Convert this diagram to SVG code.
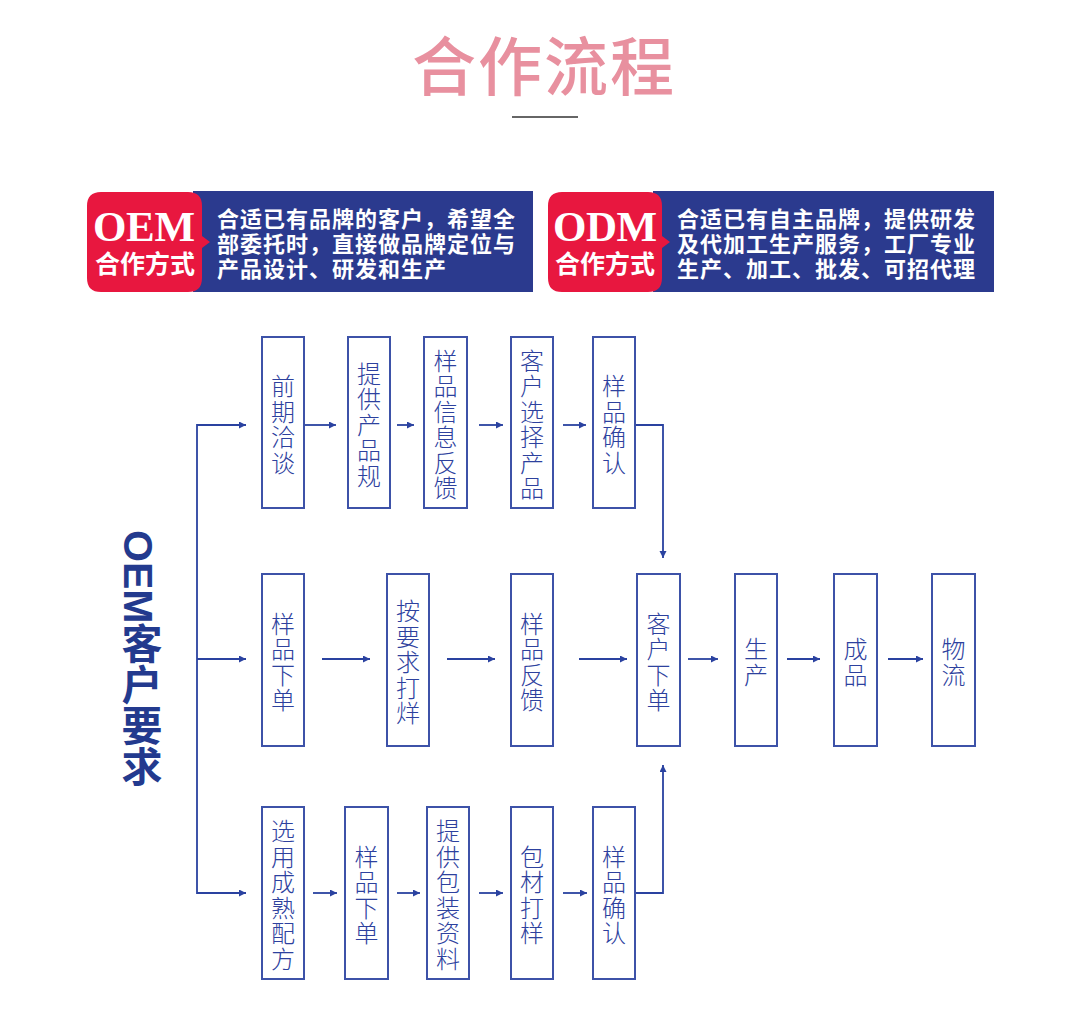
<svg xmlns="http://www.w3.org/2000/svg" width="1080" height="1028" viewBox="0 0 1080 1028">
<style>
.box{fill:#fff;stroke:#3d52a8;stroke-width:2}
.bt{font-family:"Noto Sans CJK SC","Noto Sans",sans-serif;font-size:24px;font-weight:300;fill:#2d419e;text-anchor:middle;dominant-baseline:central}
.con{stroke:#2a42a0;stroke-width:1.8;fill:none}
.ban{font-family:"Noto Sans CJK SC",sans-serif;font-size:22px;font-weight:bold;fill:#fff;letter-spacing:1px;dominant-baseline:central}
</style>
<defs>
<marker id="ah" markerUnits="userSpaceOnUse" markerWidth="8" markerHeight="8" refX="7" refY="3.5" orient="auto">
<path d="M0,0 L7,3.5 L0,7 z" fill="#2a42a0"/>
</marker>
</defs>
<rect width="1080" height="1028" fill="#fff"/>
<g id="title">
<text x="544" y="62" font-family="Noto Sans CJK SC,sans-serif" font-size="64" font-weight="500" fill="#e8909f" text-anchor="middle" dominant-baseline="central" letter-spacing="2">合作流程</text>
<line x1="512" y1="117" x2="578" y2="117" stroke="#333" stroke-width="1.5"/>
</g>
<g id="oem-banner">
<rect x="193" y="191" width="340" height="101" fill="#2b3a8e"/>
<path d="M101,192 H188 Q202,192 202,206 V236 L210,242 L202,248 V278 Q202,292 188,292 H101 Q87,292 87,278 V206 Q87,192 101,192 z" fill="#e8173f"/>
<text x="144" y="241" font-family="Liberation Serif,serif" font-size="43" font-weight="bold" fill="#fff" text-anchor="middle" textLength="102">OEM</text>
<text x="145" y="262" font-family="Noto Sans CJK SC,sans-serif" font-size="25" font-weight="bold" fill="#fff" text-anchor="middle" dominant-baseline="central">合作方式</text>
<text class="ban" x="217" y="217">合适已有品牌的客户，希望全</text>
<text class="ban" x="217" y="242">部委托时，直接做品牌定位与</text>
<text class="ban" x="217" y="267">产品设计、研发和生产</text>
</g>
<g id="odm-banner">
<rect x="653" y="191" width="341" height="101" fill="#2b3a8e"/>
<path d="M562,192 H648 Q662,192 662,206 V236 L670,242 L662,248 V278 Q662,292 648,292 H562 Q548,292 548,278 V206 Q548,192 562,192 z" fill="#e8173f"/>
<text x="605" y="241" font-family="Liberation Serif,serif" font-size="43" font-weight="bold" fill="#fff" text-anchor="middle" textLength="104">ODM</text>
<text x="605" y="262" font-family="Noto Sans CJK SC,sans-serif" font-size="25" font-weight="bold" fill="#fff" text-anchor="middle" dominant-baseline="central">合作方式</text>
<text class="ban" x="677" y="217">合适已有自主品牌，提供研发</text>
<text class="ban" x="677" y="242">及代加工生产服务，工厂专业</text>
<text class="ban" x="677" y="267">生产、加工、批发、可招代理</text>
</g>
<g id="side-title">
<text x="138" y="530" font-family="Liberation Sans,Noto Sans CJK SC,sans-serif" font-size="41" font-weight="bold" fill="#233a8e" style="writing-mode:vertical-rl">OEM客户要求</text>
</g>
<g id="connectors">
<line class="con" x1="197" y1="424" x2="197" y2="894"/>
<line class="con" x1="197" y1="425" x2="246" y2="425" marker-end="url(#ah)"/>
<line class="con" x1="197" y1="659" x2="246" y2="659" marker-end="url(#ah)"/>
<line class="con" x1="197" y1="893" x2="246" y2="893" marker-end="url(#ah)"/>
<line class="con" x1="304" y1="425" x2="336" y2="425" marker-end="url(#ah)"/>
<line class="con" x1="397" y1="425" x2="414" y2="425" marker-end="url(#ah)"/>
<line class="con" x1="479" y1="425" x2="503" y2="425" marker-end="url(#ah)"/>
<line class="con" x1="563" y1="425" x2="586" y2="425" marker-end="url(#ah)"/>
<path class="con" d="M635,425 H663 V558" marker-end="url(#ah)"/>
<line class="con" x1="322" y1="659" x2="370" y2="659" marker-end="url(#ah)"/>
<line class="con" x1="447" y1="659" x2="495" y2="659" marker-end="url(#ah)"/>
<line class="con" x1="579" y1="659" x2="627" y2="659" marker-end="url(#ah)"/>
<line class="con" x1="688" y1="659" x2="718" y2="659" marker-end="url(#ah)"/>
<line class="con" x1="787" y1="659" x2="820" y2="659" marker-end="url(#ah)"/>
<line class="con" x1="888" y1="659" x2="923" y2="659" marker-end="url(#ah)"/>
<line class="con" x1="313" y1="893" x2="337" y2="893" marker-end="url(#ah)"/>
<line class="con" x1="397" y1="893" x2="420" y2="893" marker-end="url(#ah)"/>
<line class="con" x1="479" y1="893" x2="503" y2="893" marker-end="url(#ah)"/>
<line class="con" x1="563" y1="893" x2="587" y2="893" marker-end="url(#ah)"/>
<path class="con" d="M635,893 H663 V765" marker-end="url(#ah)"/>
</g>
<g id="n-qianqi"><rect class="box" x="262" y="337" width="42" height="171"/>
<text class="bt"><tspan x="283" y="384.25">前</tspan><tspan x="283" y="409.75">期</tspan><tspan x="283" y="435.25">洽</tspan><tspan x="283" y="460.75">谈</tspan></text></g>
<g id="n-tigong"><rect class="box" x="348" y="337" width="42" height="171"/>
<text class="bt"><tspan x="369" y="371.5">提</tspan><tspan x="369" y="397">供</tspan><tspan x="369" y="422.5">产</tspan><tspan x="369" y="448">品</tspan><tspan x="369" y="473.5">规</tspan></text></g>
<g id="n-xinxi"><rect class="box" x="424" y="337" width="43" height="171"/>
<text class="bt"><tspan x="445.5" y="358.75">样</tspan><tspan x="445.5" y="384.25">品</tspan><tspan x="445.5" y="409.75">信</tspan><tspan x="445.5" y="435.25">息</tspan><tspan x="445.5" y="460.75">反</tspan><tspan x="445.5" y="486.25">馈</tspan></text></g>
<g id="n-xuanze"><rect class="box" x="511" y="337" width="42" height="171"/>
<text class="bt"><tspan x="532" y="358.75">客</tspan><tspan x="532" y="384.25">户</tspan><tspan x="532" y="409.75">选</tspan><tspan x="532" y="435.25">择</tspan><tspan x="532" y="460.75">产</tspan><tspan x="532" y="486.25">品</tspan></text></g>
<g id="n-queren1"><rect class="box" x="593" y="337" width="42" height="171"/>
<text class="bt"><tspan x="614" y="384.25">样</tspan><tspan x="614" y="409.75">品</tspan><tspan x="614" y="435.25">确</tspan><tspan x="614" y="460.75">认</tspan></text></g>
<g id="n-xiadan1"><rect class="box" x="262" y="574" width="42" height="172"/>
<text class="bt"><tspan x="283" y="621.75">样</tspan><tspan x="283" y="647.25">品</tspan><tspan x="283" y="672.75">下</tspan><tspan x="283" y="698.25">单</tspan></text></g>
<g id="n-dayang"><rect class="box" x="387" y="574" width="42" height="172"/>
<text class="bt"><tspan x="408" y="609">按</tspan><tspan x="408" y="634.5">要</tspan><tspan x="408" y="660">求</tspan><tspan x="408" y="685.5">打</tspan><tspan x="408" y="711">烊</tspan></text></g>
<g id="n-fankui"><rect class="box" x="511" y="574" width="42" height="172"/>
<text class="bt"><tspan x="532" y="621.75">样</tspan><tspan x="532" y="647.25">品</tspan><tspan x="532" y="672.75">反</tspan><tspan x="532" y="698.25">馈</tspan></text></g>
<g id="n-kehuxiadan"><rect class="box" x="637" y="574" width="43" height="172"/>
<text class="bt"><tspan x="658.5" y="621.75">客</tspan><tspan x="658.5" y="647.25">户</tspan><tspan x="658.5" y="672.75">下</tspan><tspan x="658.5" y="698.25">单</tspan></text></g>
<g id="n-shengchan"><rect class="box" x="735" y="574" width="42" height="172"/>
<text class="bt"><tspan x="756" y="647.25">生</tspan><tspan x="756" y="672.75">产</tspan></text></g>
<g id="n-chengpin"><rect class="box" x="834" y="574" width="43" height="172"/>
<text class="bt"><tspan x="855.5" y="647.25">成</tspan><tspan x="855.5" y="672.75">品</tspan></text></g>
<g id="n-wuliu"><rect class="box" x="932" y="574" width="43" height="172"/>
<text class="bt"><tspan x="953.5" y="647.25">物</tspan><tspan x="953.5" y="672.75">流</tspan></text></g>
<g id="n-peifang"><rect class="box" x="262" y="807" width="42" height="172"/>
<text class="bt"><tspan x="283" y="829.25">选</tspan><tspan x="283" y="854.75">用</tspan><tspan x="283" y="880.25">成</tspan><tspan x="283" y="905.75">熟</tspan><tspan x="283" y="931.25">配</tspan><tspan x="283" y="956.75">方</tspan></text></g>
<g id="n-xiadan2"><rect class="box" x="345" y="807" width="43" height="172"/>
<text class="bt"><tspan x="366.5" y="854.75">样</tspan><tspan x="366.5" y="880.25">品</tspan><tspan x="366.5" y="905.75">下</tspan><tspan x="366.5" y="931.25">单</tspan></text></g>
<g id="n-baozhuang"><rect class="box" x="427" y="807" width="42" height="172"/>
<text class="bt"><tspan x="448" y="829.25">提</tspan><tspan x="448" y="854.75">供</tspan><tspan x="448" y="880.25">包</tspan><tspan x="448" y="905.75">装</tspan><tspan x="448" y="931.25">资</tspan><tspan x="448" y="956.75">料</tspan></text></g>
<g id="n-baocai"><rect class="box" x="511" y="807" width="42" height="172"/>
<text class="bt"><tspan x="532" y="854.75">包</tspan><tspan x="532" y="880.25">材</tspan><tspan x="532" y="905.75">打</tspan><tspan x="532" y="931.25">样</tspan></text></g>
<g id="n-queren2"><rect class="box" x="593" y="807" width="42" height="172"/>
<text class="bt"><tspan x="614" y="854.75">样</tspan><tspan x="614" y="880.25">品</tspan><tspan x="614" y="905.75">确</tspan><tspan x="614" y="931.25">认</tspan></text></g>
</svg>
